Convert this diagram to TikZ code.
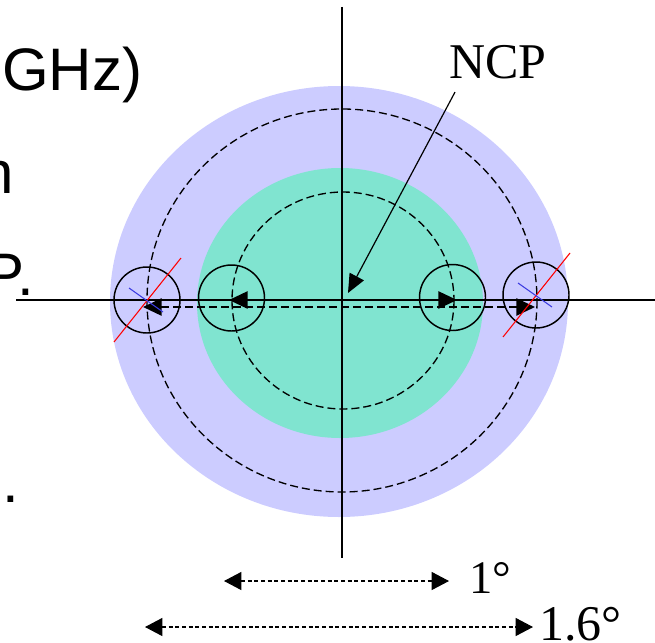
\documentclass[tikz,border=0pt]{standalone}
\usepackage{fontspec}
\setmainfont{Liberation Serif}
\newfontfamily\slidefont{Liberation Sans}
\usetikzlibrary{arrows.meta,calc}
\definecolor{lobe}{RGB}{204,204,255}
\definecolor{core}{RGB}{128,228,208}
\definecolor{feedblue}{RGB}{60,60,225}
\tikzset{axis/.style={line width=.9pt},track/.style={line width=1pt,dash pattern=on 6pt off 3pt},
 beam/.style={draw,circle,line width=1.1pt,minimum size=49.5pt,inner sep=0pt},
 offset/.style={{Triangle[length=14pt,width=13pt]}-{Triangle[length=14pt,width=13pt]},line width=1.1pt},
 span/.style={{Triangle[length=13pt,width=13.5pt]}-{Triangle[length=13pt,width=13.5pt]},line width=.8pt,dash pattern=on 3pt off 2pt},
 feed/.style={line width=.8pt},
 every node/.style={inner sep=0pt}}

\begin{document}
\begin{tikzpicture}[x=.75pt,y=-.75pt]
\useasboundingbox (0,0) rectangle (655,642);
\fill[lobe] (339,301.5) ellipse [x radius=229,y radius=215.5];
\fill[core] (340,303) ellipse [x radius=143,y radius=135];
\draw[track] (342,300.5) ellipse [x radius=195,y radius=191.5];
\draw[track] (343,300.5) ellipse [x radius=111,y radius=108.5];
\coordinate (xw) at (16,300); \coordinate (xe) at (655,300);
\coordinate (yn) at (342,7); \coordinate (ys) at (342,558);
\draw[axis] (xw)--(xe);
\draw[axis] (yn)--(ys);
\foreach \x/\y/\name in {147/300/L2,231.5/298/L1,452.5/297.5/R1,536/295/R2} {
 \node[beam] (b\name) at (\x,\y) {};
}
\coordinate (iL) at (229,300); \coordinate (iR) at (457,300);
\coordinate (oL) at (143,307); \coordinate (oR) at (535,307);
\draw[offset] (iL)--(iR);
\draw[offset,dash pattern=on 6pt off 3pt] (oL)--(oR);
\foreach \b in {bL2,bR2} {
 \draw[feed,red] ($(\b.center)+(-33,42)$)--($(\b.center)+(34,-42)$);
 \draw[feed,feedblue] ($(\b.center)+(-18,-12)$)--($(\b.center)+(16,12)$);
}
\node[anchor=base west,font=\fontsize{37.5}{40}\selectfont] (ncp) at (449,78) {NCP};
\coordinate (pole) at (348,293);
\draw[-{Triangle[length=14pt,width=12pt]},line width=.9pt] ([xshift=4.5pt,yshift=-10pt]ncp.south west)--(pole);
\coordinate (aL) at (224,581); \coordinate (aR) at (449,581);
\coordinate (bL) at (145,627); \coordinate (bR) at (533,627);
\draw[span] (aL)--(aR);
\draw[span] (bL)--(bR);
\node[anchor=base west,font=\fontsize{35}{37}\selectfont] (one) at (469,593) {1°};
\node[anchor=base west,font=\fontsize{37.5}{40}\selectfont] (onesix) at (539,640) {1.6°};
\foreach \t/\x/\y/\a in {GHz)/2/90/base west,n/14/193/base east,P./34/295/base east,./2/502/base west} {
 \node[anchor=\a,font=\slidefont\fontsize{45}{48}\selectfont] at (\x,\y) {\t};
}
\end{tikzpicture}
\end{document}
